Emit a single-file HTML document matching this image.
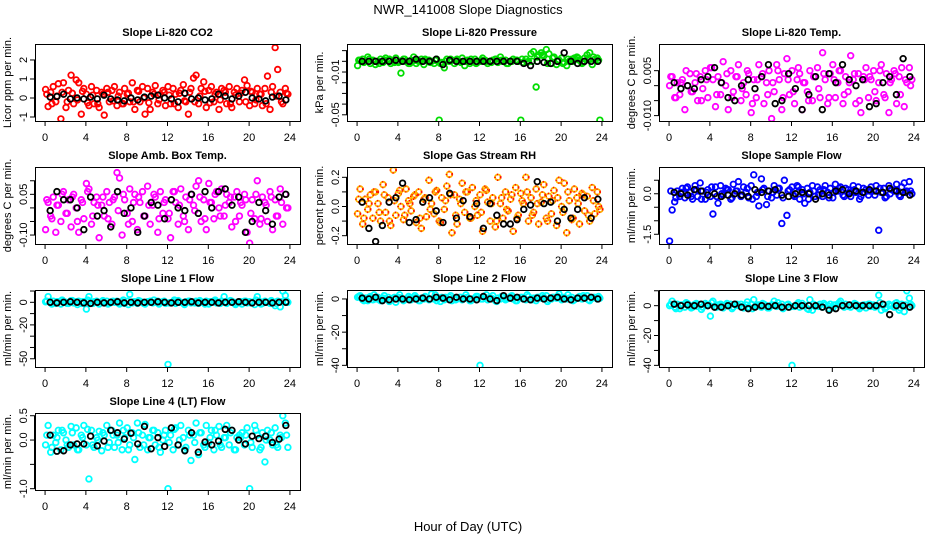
<!DOCTYPE html>
<html><head><meta charset="utf-8"><style>
html,body{margin:0;padding:0;background:#fff;}
svg{display:block;font-family:"Liberation Sans",Arial,sans-serif;}
</style></head><body>
<svg id="chart" width="936" height="540" viewBox="0 0 936 540" xmlns="http://www.w3.org/2000/svg">
<rect width="936" height="540" fill="#fff"/>
<text x="468" y="14" text-anchor="middle" font-size="13">NWR_141008  Slope Diagnostics</text>
<text x="468" y="531" text-anchor="middle" font-size="13">Hour of Day (UTC)</text>
</svg>
<script>
const xTicks=[0,4,8,12,16,20,24];
const titles=["Slope Li-820 CO2","Slope Li-820 Pressure","Slope Li-820 Temp.","Slope Amb. Box Temp.","Slope Gas Stream RH","Slope Sample Flow","Slope Line 1 Flow","Slope Line 2 Flow","Slope Line 3 Flow","Slope Line 4 (LT) Flow"];
const yTitles=["Licor ppm per min.","kPa per min.","degrees C per min.","degrees C per min.","percent per min.","ml/min per min.","ml/min per min.","ml/min per min.","ml/min per min.","ml/min per min."];
const yDomains=[[-1.21,2.84],[-0.0558,0.0162],[-0.0118,0.0139],[-0.133,0.1507],[-0.257,0.2706],[-1.86,0.99],[-57.3,10.9],[-41,5.4],[-41.1,10.5],[-1.027,0.556]];
const yTickVals=[[-1,0,1,2],[-0.05,-0.04,-0.03,-0.02,-0.01,0,0.01],[-0.01,-0.005,0,0.005],[-0.1,-0.05,0,0.05,0.1],[-0.2,-0.1,0,0.1,0.2],[-1.5,-1,-0.5,0,0.5],[-50,-40,-30,-20,-10,0,10],[-40,-30,-20,-10,0],[-40,-30,-20,-10,0,10],[-1,-0.5,0,0.5]];
const yTickLabels=[["-1","0","1","2"],["-0.05","","","","-0.01","",""],["-0.010","","","0.005"],["-0.10","","","0.05",""],["-0.2","","0.0","","0.2"],["-1.5","","","0.0",""],["-50","","","-20","","0",""],["-40","","-20","","0"],["-40","","-20","","0",""],["-1.0","","0.0","0.5"]];
const colors=["#ff0000","#00dd00","#ff00ff","#ff00ff","#ffb000","#0000ff","#00ffff","#00ffff","#00ffff","#00ffff"];
const seriesVals=[
[0.45,-0.45,0.3,0.6,-0.2,0.75,-1.1,0.8,-0.5,0.4,1.2,-0.3,0.95,0.8,-0.85,0.5,0.2,-0.4,0.6,-0.3,0.4,-0.5,0.3,-0.9,0.5,-0.2,0.4,0.6,-0.4,0.3,-0.3,0.5,0.2,-0.2,0.8,-0.6,0.4,-0.2,0.6,-0.85,0.5,-0.6,0.3,0.65,-0.3,0.2,0.4,-0.4,0.6,-0.3,0.5,0.2,-0.5,0.4,0.7,-0.2,-0.85,0.5,1.05,1.2,-0.3,0.5,0.85,-0.5,0.4,0.6,-0.2,0.3,-0.6,0.5,0.4,-0.3,0.6,-0.5,0.3,0.5,-0.2,0.4,0.95,0.65,-0.4,0.3,-0.3,0.5,0.2,-0.4,0.5,1.15,-0.6,0.6,2.65,1.5,0.3,-0.3,0.5,0.2],
[-0.004,0.001,0.002,0.0,0.004,-0.002,0.001,-0.003,0.0,0.002,-0.001,0.003,0.001,-0.002,0.0,0.003,-0.001,-0.011,0.002,0.0,-0.002,0.001,0.004,-0.002,0.0,0.002,-0.003,0.001,0.001,0.0,-0.002,0.002,-0.055,-0.001,-0.006,0.002,0.0,0.001,-0.002,0.002,0.0,0.003,-0.004,0.001,-0.002,0.0,0.002,-0.001,0.0,0.003,0.001,-0.002,0.0,0.001,0.002,-0.001,0.004,0.0,0.001,-0.002,0.0,0.002,0.001,0.0,-0.055,-0.001,0.002,0.0,0.007,0.009,-0.024,0.006,0.008,0.005,0.011,0.007,-0.002,0.004,-0.003,0.001,0.003,-0.001,-0.004,0.0,0.002,0.003,0.004,0.001,-0.002,0.003,0.006,0.008,-0.003,0.002,0.003,-0.055],
[0.0,0.003,-0.004,0.001,-0.003,0.002,-0.008,0.0,0.004,-0.002,0.001,-0.005,0.003,-0.001,0.005,-0.004,0.006,0.002,-0.007,0.003,-0.003,0.008,0.0,-0.008,0.005,-0.002,0.003,0.007,-0.005,0.001,-0.003,0.004,-0.009,0.002,-0.004,0.007,0.003,-0.006,0.001,0.005,-0.011,-0.002,0.007,0.002,-0.008,0.004,0.009,-0.003,0.005,-0.006,0.002,0.004,-0.008,0.001,-0.002,0.005,-0.005,0.003,0.006,-0.004,0.011,0.002,-0.006,0.004,0.007,-0.004,0.001,0.005,-0.006,0.003,-0.002,0.010,0.002,-0.006,0.004,-0.009,0.003,0.006,-0.004,0.002,0.005,-0.005,0.001,0.007,-0.003,0.004,-0.009,0.002,0.005,-0.006,0.003,0.006,-0.007,0.001,0.006,0.002],
[-0.08,0.02,-0.03,0.04,-0.09,0.01,-0.05,0.06,-0.02,0.03,-0.07,0.05,0.0,-0.09,0.03,-0.04,0.09,0.07,-0.06,0.02,0.04,-0.11,0.01,-0.03,0.06,0.02,-0.06,0.04,0.13,0.11,-0.10,0.03,-0.02,0.07,-0.05,0.05,-0.08,0.02,0.06,-0.03,0.08,-0.06,0.01,0.04,-0.09,0.06,-0.02,0.03,-0.04,-0.11,0.06,0.02,-0.06,0.07,-0.03,0.04,-0.08,0.05,0.01,0.08,0.10,-0.05,0.03,-0.08,0.09,0.02,-0.04,0.06,0.0,0.07,-0.03,0.05,0.02,-0.07,0.04,0.06,-0.03,0.01,0.05,-0.09,-0.13,0.03,-0.04,0.10,-0.06,0.04,0.02,-0.05,0.06,-0.08,0.03,-0.03,0.07,-0.06,0.05,0.0],
[-0.05,0.12,-0.12,0.05,-0.02,0.08,-0.08,0.1,0.02,-0.1,0.15,-0.04,0.06,-0.13,0.25,-0.06,0.09,0.0,-0.09,0.12,0.04,-0.03,0.07,-0.11,0.1,-0.15,0.05,-0.07,0.18,0.02,-0.05,0.11,-0.1,0.06,-0.02,0.14,0.22,-0.18,0.08,-0.12,0.05,0.16,-0.04,0.1,-0.08,0.13,0.0,-0.06,0.08,-0.17,0.12,0.03,-0.1,0.06,-0.14,0.2,0.02,-0.08,0.1,-0.03,0.05,-0.17,0.13,-0.06,0.09,0.02,0.2,-0.1,0.06,-0.04,0.12,-0.12,0.03,0.15,-0.08,0.07,-0.05,0.11,-0.13,0.18,0.0,0.16,-0.18,0.04,-0.09,0.12,0.06,-0.12,0.09,-0.03,0.07,-0.1,0.13,-0.05,0.1,-0.02],
[-1.75,-0.6,-0.3,0.1,-0.1,0.2,-0.15,0.25,0.05,-0.2,0.3,-0.1,0.4,0.1,-0.2,0.15,-0.1,-0.75,0.25,-0.35,0.3,-0.05,0.2,0.15,-0.2,0.35,0.1,0.45,-0.1,0.25,0.05,-0.15,0.3,0.7,-0.1,-0.45,0.55,0.2,-0.4,0.1,-0.15,0.3,-0.05,0.2,-1.1,0.5,-0.8,0.15,0.25,-0.1,0.3,-0.2,0.15,-0.35,0.2,0.05,0.3,-0.1,0.25,0.15,-0.1,0.3,0.05,0.2,-0.15,0.35,0.1,0.25,-0.05,0.2,0.15,-0.1,0.3,0.05,0.25,-0.1,0.2,0.15,-0.05,0.25,0.1,0.3,-1.35,0.05,0.2,-0.1,0.3,0.15,0.1,0.35,-0.05,0.25,0.4,0.1,0.45,0.0],
[0.5,5,-0.5,1,-1,0.5,-1.5,1,0,-1,1.5,-0.5,0.5,1,-1,0.5,-6,5,-1,0.5,1,-1.5,0.5,-0.5,1,-1,0.5,0,1,-1.5,0.5,-1,1,7,-0.5,0.5,-1,1,0,-1.5,0.5,1,-0.5,0,1,0,0.5,-1,-55,-0.5,0.5,-1,1.5,0,-1,0.5,1,-0.5,0,1,-1,0.5,0,1,-1.5,0.5,1,-0.5,0,1,5,-1,0.5,1,-1,0,0.5,-1.5,1,-0.5,0.5,0,-2,5,0.5,-1,1,0,-1,0.5,-3,1,-4,10,6,0],
[1,2,-0.5,0.5,-1,1.5,-0.5,0,1,-1,0.5,0,1,-0.5,0.5,-2,1,0.5,-1,0,1.5,-0.5,0.5,1,-1,0.5,0,1,-0.5,3,0,-1,0.5,1,-0.5,0,1,-1,0.5,0,1,-0.5,0.5,1,-1,0,0.5,1.5,-40,0,1,-0.5,0.5,2,-1,0.5,0,1,-0.5,0.5,1.5,0,-1,0.5,1,0,-0.5,1.5,0,0.5,-1,1,0.5,1,2,-0.5,0,1,0.5,3,-0.5,1,0,0.5,1,-0.5,0.5,1.5,0,1,2,-1,0.5,1,0,0.5],
[0,3,-1,1,-2,0.5,-1,1.5,0,-1,1,-0.5,0.5,-1,1.5,0,-7,3,-1,0.5,1,-1.5,0.5,0,1,-1,0.5,0,1,-1.5,0.5,-1,1,4,-0.5,0.5,-1,1,0,-1.5,0.5,3,-0.5,0,1,-1,0.5,-1,-40,-0.5,1,-1,1.5,0,-2,4,-3,-0.5,0,1,-1,0.5,0,1,-1.5,0.5,1,3,0,1,-0.5,-1,0.5,1,-1,0,0.5,-1.5,1,-0.5,0.5,0,7,-3,0.5,-1,1,0,-1,2,-3,1,-4,10,5,0],
[-0.1,0.3,-0.25,0.1,-0.05,0.2,-0.2,0.15,0.0,-0.15,0.28,-0.1,0.25,-0.2,0.1,0.3,-0.1,-0.8,0.2,-0.15,0.05,0.18,-0.22,0.1,0.3,-0.05,0.2,-0.15,0.1,0.35,-0.2,0.05,0.25,-0.1,0.15,-0.4,0.35,-0.15,0.1,0.32,-0.2,0.05,0.2,-0.1,0.15,-0.25,0.0,0.2,-1.0,0.1,-0.2,0.25,-0.1,0.3,0.05,-0.15,0.2,-0.42,0.1,0.35,-0.3,0.15,-0.1,0.3,-0.05,0.2,-0.2,0.1,0.28,-0.15,0.05,0.3,-0.1,0.2,-0.2,0.05,0.1,0.15,-0.1,0.25,-1.0,-0.15,0.3,0.1,-0.2,0.15,-0.45,0.2,0.0,-0.1,0.25,-0.15,0.1,0.5,0.35,-0.15]
];
const bandVals=[
[0.2,-0.3,0.1,0.3,-0.2,0.25,-0.1,0.35,-0.25,0.15,-0.3,0.2,0.3,-0.15,0.1,-0.3,0.25,-0.2,0.35,0.0,-0.25,0.2,-0.1,0.3,0.15,-0.3,0.25,-0.15,0.3,-0.2,0.1,0.35,-0.25,0.2,-0.1,0.3,-0.3,0.15,0.25,-0.2,0.35,-0.1,0.2,-0.3,0.3,0.1,-0.2,0.25],
[0.001,-0.001,0.002,0.0,-0.002,0.001,0.002,-0.001,0.0,0.002,-0.002,0.001,0.0,0.002,-0.001,0.001,-0.002,0.0,0.002,0.001,-0.001,0.0,0.002,-0.002,0.001,0.0,-0.001,0.002,0.001,-0.002,0.0,0.001,0.002,-0.001,0.0,0.004,0.006,-0.002,0.003,0.001,-0.002,0.002,0.0,0.003,-0.001,0.002,0.004,0.001],
[0.003,-0.004,0.001,0.005,-0.002,0.004,-0.005,0.002,0.006,-0.003,0.001,0.004,-0.004,0.003,-0.001,0.005,-0.006,0.002,0.004,-0.003,0.001,0.005,-0.004,0.002,-0.002,0.006,0.001,-0.005,0.003,-0.001,0.004,-0.004,0.002,0.005,-0.003,0.001,0.004,-0.005,0.002,0.003,-0.002,0.005,-0.004,0.001,0.004,-0.003,0.002,0.0],
[0.03,-0.04,0.01,0.05,-0.02,0.04,-0.05,0.02,0.06,-0.03,0.01,0.04,-0.04,0.03,-0.01,0.05,-0.06,0.02,0.04,-0.03,0.01,0.05,-0.04,0.02,-0.02,0.06,0.01,-0.05,0.03,-0.01,0.04,-0.04,0.02,0.05,-0.03,0.01,0.04,-0.05,0.02,0.03,-0.02,0.05,-0.04,0.01,0.04,-0.03,0.02,0.0],
[0.05,-0.08,0.02,0.1,-0.04,0.08,-0.1,0.04,0.11,-0.06,0.02,0.08,-0.08,0.06,-0.02,0.1,-0.11,0.04,0.08,-0.06,0.02,0.1,-0.08,0.04,-0.04,0.11,0.02,-0.1,0.06,-0.02,0.08,-0.08,0.04,0.1,-0.06,0.02,0.08,-0.1,0.04,0.06,-0.04,0.1,-0.08,0.02,0.08,-0.06,0.04,0.0],
[0.1,-0.15,0.05,0.2,-0.1,0.15,-0.2,0.05,0.25,-0.1,0.0,0.15,-0.15,0.1,-0.05,0.2,-0.2,0.05,0.15,-0.1,0.05,0.2,-0.15,0.1,-0.05,0.25,0.0,-0.2,0.1,-0.05,0.15,-0.15,0.05,0.2,-0.1,0.05,0.15,-0.2,0.05,0.1,-0.05,0.2,-0.15,0.0,0.15,-0.1,0.05,0.1],
[1,-1.5,0.5,2,-1,1.5,-2,0.5,2,-1,0,1.5,-1.5,1,-0.5,2,-2,0.5,1.5,-1,0.5,2,-1.5,1,-0.5,2,0,-2,1,-0.5,1.5,-1.5,0.5,2,-1,0.5,1.5,-2,0.5,1,-0.5,2,-1.5,0,1.5,-1,0.5,1],
[1.5,-1,1,2.5,-0.5,2,-1.5,1,2.5,-0.5,0.5,2,-1,1.5,0,2.5,-1.5,1,2,-0.5,1,2.5,-1,1.5,0,2.5,0.5,-1.5,1.5,0,2,-1,1,2.5,-0.5,1,2,-1.5,1,1.5,0,2.5,-1,0.5,2,-0.5,1,1.5],
[1,-2,0.5,2,-1.5,1.5,-2.5,0.5,2,-1,0,1.5,-2,1,-0.5,2.5,-2,0.5,1.5,-1.5,0.5,2,-2,1,-0.5,2,0,-2.5,1,-0.5,1.5,-2,0.5,2,-1,0.5,1.5,-2,0.5,1,-1,2,-2,0,1.5,-1.5,0.5,1],
[0.1,-0.15,0.05,0.2,-0.1,0.15,-0.2,0.05,0.22,-0.1,0.0,0.15,-0.15,0.1,-0.05,0.2,-0.2,0.05,0.15,-0.1,0.05,0.2,-0.15,0.1,-0.05,0.22,0.0,-0.2,0.1,-0.05,0.15,-0.15,0.05,0.2,-0.1,0.05,0.15,-0.2,0.05,0.1,-0.05,0.2,-0.15,0.0,0.15,-0.1,0.05,0.1]
];
const blackVals=[
[0.05,0.08,0.2,-0.05,0.0,-0.05,0.05,-0.05,0.15,-0.05,-0.1,-0.15,0.0,-0.1,0.05,0.1,0.15,0.0,-0.05,-0.2,0.25,-0.05,0.0,-0.1,-0.05,0.2,0.1,-0.05,0.1,0.3,0.0,-0.05,-0.15,0.05,0.1,-0.1],
[0.0,0.0,0.0,0.0,0.0,0.001,0.0,0.0,0.002,0.0,0.0,0.002,-0.003,0.001,0.0,0.0,0.0,0.0,0.0,0.0,0.0,0.0,0.0,0.0,-0.002,-0.004,0.0,-0.001,-0.002,0.0,0.008,0.0,-0.002,0.0,0.0,0.0],
[0.001,-0.001,0.0,-0.001,0.002,0.003,0.006,0.001,-0.004,-0.005,0.0,0.002,-0.001,0.003,0.007,-0.006,-0.005,0.004,-0.001,-0.008,-0.003,0.003,-0.008,0.004,0.001,0.007,0.002,0.0,0.002,-0.007,-0.006,0.001,0.003,-0.003,0.009,0.003],
[-0.01,0.06,0.03,0.03,0.0,-0.08,0.04,-0.03,-0.01,-0.07,0.06,-0.02,0.0,-0.09,-0.03,0.02,0.01,-0.04,0.03,0.0,-0.01,0.05,-0.02,0.06,0.0,0.06,0.07,0.01,0.04,-0.09,-0.05,0.02,-0.01,-0.06,0.04,0.05],
[0.03,-0.15,-0.24,-0.13,0.03,0.06,0.16,-0.11,-0.09,0.03,0.06,-0.03,-0.11,0.09,-0.08,0.04,-0.07,0.02,-0.15,0.02,-0.06,-0.12,-0.12,-0.09,-0.02,0.01,0.17,0.02,0.03,-0.1,-0.02,-0.08,-0.02,0.06,-0.08,0.05],
[0.05,0.0,-0.05,0.15,0.1,-0.05,0.0,-0.1,-0.05,0.0,-0.05,-0.1,0.15,0.05,0.1,0.15,-0.05,-0.1,0.0,0.05,0.0,-0.2,0.0,-0.05,0.1,0.15,0.0,0.1,0.05,0.15,0.1,0.05,0.2,0.1,0.05,-0.05],
[0,-0.5,0,0.5,0,-0.5,-1,0,-0.5,0,0.5,-0.5,0,-0.5,0,0,0.5,0,-0.5,0,0,0.5,-0.5,0,0,-0.5,0,0,0.5,0,-0.5,0,0,-0.5,0,0],
[0.5,0,1,-1,-0.5,0,0,-0.5,0,0.5,0,1,0.5,-0.5,1,0,0,-0.5,1.5,0,-1,2,0.5,1,0,-0.5,0.5,0,0.5,1,0,-0.5,0.5,0.5,1,0],
[1,0,0.5,0,1,0,-1,-1,0,1,-1,-2,-1,0,-0.5,0,-1,-1,0,0,0,0,-1,-3,-2,0,0.5,0,0,0,0,1,-6,0,0,-1],
[0.1,-0.23,-0.22,-0.1,-0.08,-0.08,0.08,-0.12,-0.02,0.2,0.15,0.02,0.14,-0.08,0.28,-0.18,0.05,-0.13,0.25,-0.1,-0.22,0.15,-0.25,-0.04,-0.1,-0.02,0.22,0.2,0.0,-0.08,0.08,0.03,0.08,-0.05,0.02,0.3]
];
const svg=document.getElementById('chart');
const NS='http://www.w3.org/2000/svg';
function mk(tag,attrs,parent){const e=document.createElementNS(NS,tag);for(const k in attrs)e.setAttribute(k,attrs[k]);parent.appendChild(e);return e;}
const colLeft=[35,347,659], W=265, H=77;
titles.forEach((t,p)=>{
  const col=p%3,row=Math.floor(p/3);
  const L=colLeft[col],T=44+123*row,B=T+H,R=L+W;
  const g=mk('g',{},svg);
  
  
  const xs=v=>L+W*0.038+(v/24)*W*0.924;
  const d=yDomains[p];
  const ys=v=>B-(v-d[0])/(d[1]-d[0])*H;
  const tt=mk('text',{x:(L+R)/2,y:T-8,'text-anchor':'middle','font-size':'11','font-weight':'bold'},g);
  tt.textContent=t;
  
  
  const yt=mk('text',{x:0,y:0,'text-anchor':'middle','font-size':'11',transform:`translate(${L-24},${(T+B)/2}) rotate(-90)`},g);
  yt.textContent=yTitles[p];
  
  
  const xa=mk('g',{},g);
  
  
  mk('line',{x1:xs(0),x2:xs(24),y1:B+0.5,y2:B+0.5,stroke:'#000'},xa);
  xTicks.forEach(v=>{
    mk('line',{x1:xs(v),x2:xs(v),y1:B,y2:B+5,stroke:'#000'},xa);
    const tx=mk('text',{x:xs(v),y:B+20,'text-anchor':'middle','font-size':'11'},xa);
    tx.textContent=v;
    
    
  });
  const ya=mk('g',{},g);
  
  
  const tv=yTickVals[p];
  mk('line',{x1:L-0.5,x2:L-0.5,y1:ys(tv[0]),y2:ys(tv[tv.length-1]),stroke:'#000'},ya);
  tv.forEach((v,i)=>{
    const y=ys(v);
    mk('line',{x1:L-5,x2:L,y1:y,y2:y,stroke:'#000'},ya);
    const lab=yTickLabels[p][i];
    if(lab){
      const tx=mk('text',{x:0,y:0,'text-anchor':'middle','font-size':'11',transform:`translate(${L-8},${y}) rotate(-90)`},ya);
      tx.textContent=lab;
      
      
    }
  });
  const cp='clip'+p;
  const c=mk('clipPath',{id:cp},g);mk('rect',{x:L,y:T,width:W,height:H},c);
  const pts=mk('g',{'clip-path':`url(#${cp})`},g);
  
  
  const drawColored=(v,h)=>{
    const ci=mk('circle',{cx:xs(h),cy:ys(v),r:2.8,fill:'none',stroke:colors[p],'stroke-width':1.8},pts);
    
    
    if(p===4){mk('circle',{cx:xs(h),cy:ys(v),r:2.8,fill:'none',stroke:'#ff0000','stroke-width':1.8,'stroke-dasharray':'1 3'},pts);}
  };
  seriesVals[p].forEach((v,i)=>drawColored(v,i*0.25+0.05));
  bandVals[p].forEach((v,i)=>drawColored(v,i*0.5+0.17));
  blackVals[p].forEach((v,i)=>{
    const h=i*0.66+0.5;
    const ci=mk('circle',{cx:xs(h),cy:ys(v),r:2.8,fill:'none',stroke:'#000','stroke-width':1.8},pts);
    
    
  });
  const box=mk('rect',{x:L+0.5,y:T+0.5,width:W,height:H,fill:'none',stroke:'#000'},g);
  
  
});
</script>
</body></html>
